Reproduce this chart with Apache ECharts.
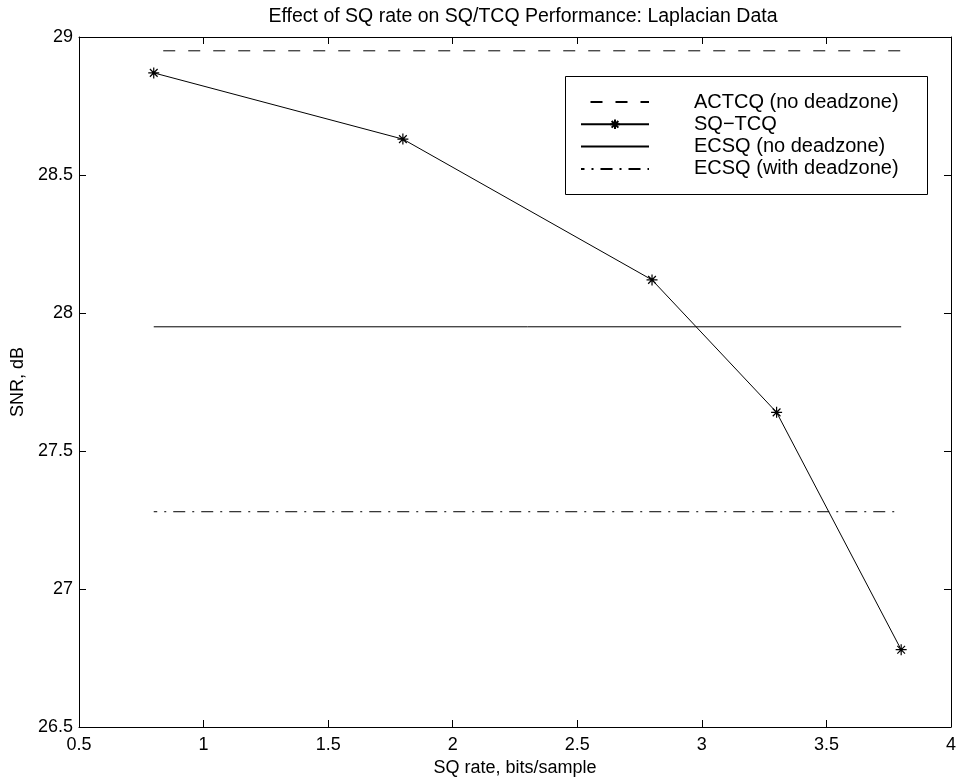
<!DOCTYPE html>
<html>
<head>
<meta charset="utf-8">
<title>Effect of SQ rate on SQ/TCQ Performance</title>
<script src="https://cdn.jsdelivr.net/npm/echarts@6/dist/echarts.min.js"></script>
<style>
  html, body { margin: 0; padding: 0; background: #fff; }
  #chart { width: 959px; height: 783px; }
</style>
</head>
<body>
<div id="chart"></div>
<script>
// SQ rate (bits/sample) at which SQ-TCQ was measured
const sqRates = [0.8, 1.8, 2.8, 3.3, 3.8];
const sqTcqSnr = [28.87, 28.63, 28.12, 27.64, 26.78];

// reference levels, drawn across the same rate span
const refSpan = [0.8, 3.8];
const actcqSnr = 28.95;
const ecsqNoDzSnr = 27.95;
const ecsqDzSnr = 27.28;

const xTicks = [0.5, 1, 1.5, 2, 2.5, 3, 3.5, 4];
const yTicks = [26.5, 27, 27.5, 28, 28.5, 29];

const FONT = 'Liberation Sans, Arial, Helvetica, sans-serif';
const INK = '#000';

const chart = echarts.init(document.getElementById('chart'), null, { renderer: 'canvas' });

// matlab-ish box axes: ticks inside, all four sides
const boxAxis = (extra) => Object.assign({
  type: 'value',
  interval: 0.5,
  axisLine: { show: true, onZero: false, lineStyle: { color: INK, width: 1 } },
  axisTick: { show: true, inside: true, length: 7, lineStyle: { color: INK, width: 1 } },
  splitLine: { show: false },
  axisLabel: { color: INK, fontFamily: FONT, fontSize: 18 }
}, extra);

const flat = (v) => refSpan.map(x => [x, v]);

// legend entries without a marker: hide the default legend dot
const noDot = { opacity: 0 };

const option = {
  animation: false,
  backgroundColor: '#fff',
  title: {
    text: 'Effect of SQ rate on SQ/TCQ Performance: Laplacian Data',
    left: 518,
    top: 2,
    textAlign: 'center',
    textStyle: { color: INK, fontFamily: FONT, fontSize: 19.5, fontWeight: 'normal' }
  },
  grid: { left: 79, right: 6, top: 37, bottom: 56 },
  xAxis: [
    boxAxis({
      min: xTicks[0], max: xTicks[xTicks.length - 1],
      position: 'bottom',
      name: 'SQ rate, bits/sample',
      nameLocation: 'middle',
      nameGap: 31,
      nameTextStyle: { color: INK, fontFamily: FONT, fontSize: 18 },
      axisLabel: { color: INK, fontFamily: FONT, fontSize: 18, margin: 9 }
    }),
    boxAxis({
      min: xTicks[0], max: xTicks[xTicks.length - 1],
      position: 'top',
      axisLabel: { show: false }
    })
  ],
  yAxis: [
    boxAxis({
      min: yTicks[0], max: yTicks[yTicks.length - 1],
      position: 'left',
      name: 'SNR, dB',
      nameLocation: 'middle',
      nameGap: 50,
      nameTextStyle: { color: INK, fontFamily: FONT, fontSize: 18 },
      axisLabel: { color: INK, fontFamily: FONT, fontSize: 18, margin: 6 }
    }),
    boxAxis({
      min: yTicks[0], max: yTicks[yTicks.length - 1],
      position: 'right',
      axisLabel: { show: false }
    })
  ],
  legend: {
    orient: 'vertical',
    left: 580,
    top: 92,
    itemWidth: 68,
    itemHeight: 12,
    itemGap: 2.3,
    padding: 0,
    selectedMode: false,
    formatter: (name) => '{g|}' + name,
    textStyle: {
      color: INK, fontFamily: FONT, fontSize: 20, lineHeight: 20,
      rich: { g: { width: 40 } }
    },
    data: [
      { name: 'ACTCQ (no deadzone)', itemStyle: noDot },
      { name: 'SQ\u2212TCQ' },
      { name: 'ECSQ (no deadzone)', itemStyle: noDot },
      { name: 'ECSQ (with deadzone)', itemStyle: noDot }
    ]
  },
  graphic: [{
    type: 'rect',
    left: 563, top: 74,
    shape: { width: 362, height: 118 },
    style: { fill: 'none', stroke: INK, lineWidth: 1 },
    z: 100
  }],
  series: [
    {
      name: 'ACTCQ (no deadzone)',
      type: 'line',
      data: flat(actcqSnr),
      symbol: 'none',
      lineStyle: { color: INK, width: 1, type: [12, 13], dashOffset: 15.5 },
      itemStyle: { color: INK }
    },
    {
      name: 'SQ\u2212TCQ',
      type: 'line',
      data: sqRates.map((x, i) => [x, sqTcqSnr[i]]),
      symbol: 'path://M0,-1L0,1M-1,0L1,0M-0.7,-0.7L0.7,0.7M-0.7,0.7L0.7,-0.7',
      symbolSize: 11,
      lineStyle: { color: INK, width: 1 },
      itemStyle: { color: INK, borderColor: INK, borderWidth: 1.2 }
    },
    {
      name: 'ECSQ (no deadzone)',
      type: 'line',
      data: flat(ecsqNoDzSnr),
      symbol: 'none',
      lineStyle: { color: INK, width: 1 },
      itemStyle: { color: INK }
    },
    {
      name: 'ECSQ (with deadzone)',
      type: 'line',
      data: flat(ecsqDzSnr),
      symbol: 'none',
      lineStyle: { color: INK, width: 1, type: [12, 7, 2, 7], dashOffset: 8.5 },
      itemStyle: { color: INK }
    }
  ]
};

chart.setOption(option);
window.addEventListener('resize', () => chart.resize());
</script>
</body>
</html>
